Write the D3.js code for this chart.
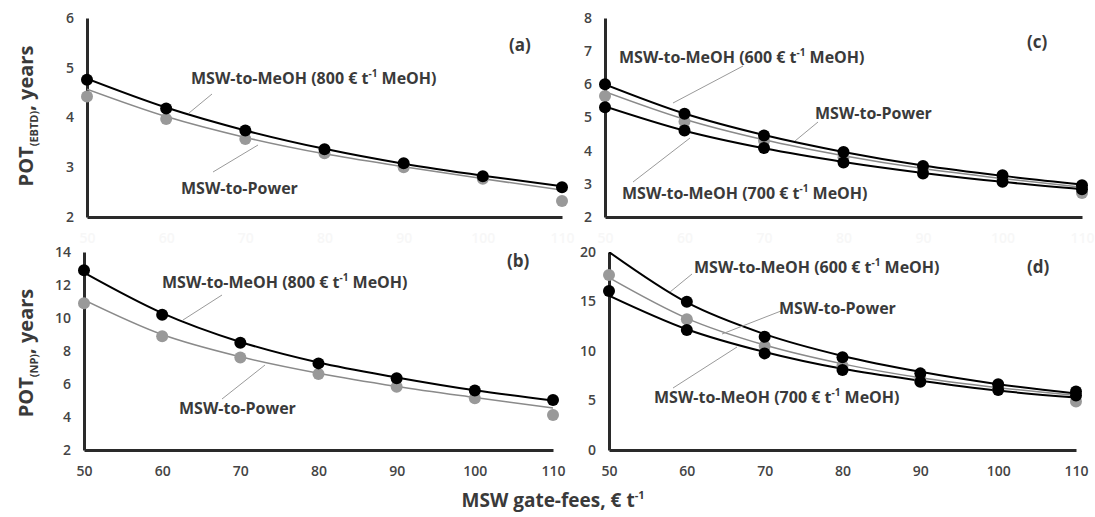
<!DOCTYPE html>
<html>
<head>
<meta charset="utf-8">
<script src="https://cdn.jsdelivr.net/npm/d3@7"></script>
<style>
  body { margin: 0; background: #fff; }
  svg { font-family: "Open Sans", "Liberation Sans", sans-serif; }
</style>
</head>
<body>
<svg width="1095" height="517"></svg>
<script>
var gateFees = [50, 60, 70, 80, 90, 100, 110];

// panel (a) POT(EBTD)
var aMeOH800 = [4.76, 4.18, 3.74, 3.36, 3.08, 2.82, 2.6];
var aMeOH800Trend = [4.78, 4.2, 3.74, 3.37, 3.07, 2.83, 2.62];
var aPower = [4.42, 3.97, 3.57, 3.28, 3.0, 2.77, 2.32];
var aPowerTrend = [4.57, 4.02, 3.6, 3.27, 3.01, 2.77, 2.54];

// panel (b) POT(NP)
var bMeOH800 = [12.9, 10.2, 8.5, 7.25, 6.35, 5.6, 5.03];
var bMeOH800Trend = [12.75, 10.3, 8.55, 7.3, 6.4, 5.62, 5.0];
var bPower = [10.9, 8.9, 7.6, 6.6, 5.84, 5.13, 4.12];
var bPowerTrend = [11.1, 9.0, 7.65, 6.65, 5.85, 5.18, 4.55];

// panel (c) POT(EBTD)
var cMeOH600 = [6.0, 5.11, 4.46, 3.96, 3.54, 3.26, 2.96];
var cMeOH600Trend = [6.0, 5.12, 4.47, 3.96, 3.55, 3.24, 2.98];
var cPower = [5.65, 4.88, 4.3, 3.8, 3.42, 3.15, 2.72];
var cPowerTrend = [5.78, 4.95, 4.33, 3.85, 3.46, 3.16, 2.9];
var cMeOH700 = [5.31, 4.61, 4.08, 3.64, 3.31, 3.06, 2.84];
var cMeOH700Trend = [5.33, 4.6, 4.07, 3.66, 3.33, 3.06, 2.84];

// panel (d) POT(NP)
var dMeOH600 = [null, 14.98, 11.44, 9.36, 7.74, 6.63, 5.9];
var dMeOH600Trend = [20, 14.9, 11.7, 9.5, 7.9, 6.65, 5.7];
var dPower = [17.68, 13.2, 10.5, 8.5, 7.2, 6.2, 4.9];
var dPowerTrend = [17.4, 13.3, 10.6, 8.7, 7.3, 6.3, 5.5];
var dMeOH700 = [16.06, 12.12, 9.76, 8.08, 6.9, 6.06, 5.5];
var dMeOH700Trend = [15.6, 12.2, 9.9, 8.2, 7.0, 6.0, 5.3];

var yTicksEBTD_a = [2, 3, 4, 5, 6];
var yTicksNP_b = [2, 4, 6, 8, 10, 12, 14];
var yTicksEBTD_c = [2, 3, 4, 5, 6, 7, 8];
var yTicksNP_d = [0, 5, 10, 15, 20];

var lblMeOH800 = "MSW-to-MeOH (800 € t";
var lblMeOH600 = "MSW-to-MeOH (600 € t";
var lblMeOH700 = "MSW-to-MeOH (700 € t";
var lblPower = "MSW-to-Power";

var svg = d3.select("svg");
var textCol = "#3a3a3a";

function methLabel(g, txt, x, y){
    var t = g.append("text").attr("x", x).attr("y", y)
        .attr("font-size", 16).attr("font-weight", "bold").style("fill", textCol);
    if (txt == lblPower){ t.text(txt); return; }
    t.append("tspan").text(txt);
    t.append("tspan").text("-1").attr("font-size", 10).attr("dy", -7);
    t.append("tspan").text(" MeOH)").attr("dy", 7);
}

function leader(g, x1, y1, x2, y2){
    g.append("line").attr("x1", x1).attr("y1", y1).attr("x2", x2).attr("y2", y2)
        .attr("stroke", "#9a9a9a").attr("stroke-width", 1);
}

function drawPanel(p){
    var x = d3.scaleLinear().domain([50, 110]).range([p.x0, p.x1]);
    var y = d3.scaleLinear().domain([p.yTicks[0], p.yTicks[p.yTicks.length - 1]]).range([p.yb, p.yt]);
    var g = svg.append("g");

    var clipId = "clip" + p.name;
    svg.append("clipPath").attr("id", clipId).append("rect")
        .attr("x", p.x0).attr("y", p.yt).attr("width", p.x1 - p.x0 + 10).attr("height", p.yb - p.yt);

    // y axis
    var ya = g.append("g").attr("transform", "translate(" + p.x0 + ",0)")
        .call(d3.axisLeft(y).tickValues(p.yTicks).tickFormat(d3.format("d"))
            .tickSize(0).tickSizeOuter(0).tickPadding(13));
    ya.select(".domain").attr("stroke", "#2a2a2a").attr("stroke-width", 3);
    ya.selectAll("text").attr("font-size", 14).attr("font-weight", 600).style("fill", "#444")
        .attr("font-family", "Open Sans");

    // x axis
    var xa = g.append("g").attr("transform", "translate(0," + p.yb + ")")
        .call(d3.axisBottom(x).tickValues(gateFees).tickSize(0).tickSizeOuter(0).tickPadding(16));
    xa.select(".domain").attr("stroke", "#2a2a2a").attr("stroke-width", 3);
    xa.selectAll(".tick text").attr("font-size", 14).attr("font-weight", 600)
        .style("fill", p.xLabelCol).attr("font-family", "Open Sans");

    var line = d3.line()
        .defined(function(d){ return d != null; })
        .x(function(d, i){ return x(gateFees[i]); })
        .y(function(d){ return y(d); })
        .curve(d3.curveMonotoneX);

    var lg = g.append("g").attr("clip-path", "url(#" + clipId + ")");
    p.series.forEach(function(s){
        lg.append("path").datum(s.trend).attr("d", line).attr("fill", "none")
            .attr("stroke", s.color).attr("stroke-width", s.width);
    });

    // markers, grey first so the black ones sit on top
    var order = p.series.slice().sort(function(a, b){ return a.color == "#000" ? 1 : -1; });
    order.forEach(function(s){
        g.append("g").selectAll("circle")
            .data(s.values.map(function(v, i){ return {v: v, f: gateFees[i]}; })
                .filter(function(d){ return d.v != null; }))
            .enter().append("circle")
            .attr("cx", function(d){ return x(d.f); })
            .attr("cy", function(d){ return y(d.v); })
            .attr("r", 6)
            .attr("fill", s.dot);
    });

    p.labels.forEach(function(l){
        leader(g, l.lx1, l.ly1, l.lx2, l.ly2);
        methLabel(g, l.text, l.x, l.y);
    });

    g.append("text").attr("x", p.tagX).attr("y", p.tagY).text(p.tag)
        .attr("font-size", 17).attr("font-weight", "bold").style("fill", textCol);
}

drawPanel({
    name: "a", x0: 87, x1: 562, yb: 217, yt: 18, yTicks: yTicksEBTD_a, xLabelCol: "#f7f7f7",
    series: [
        {trend: aPowerTrend, values: aPower, color: "#8a8a8a", width: 1.5, dot: "#999"},
        {trend: aMeOH800Trend, values: aMeOH800, color: "#000", width: 2, dot: "#000"}
    ],
    labels: [
        {text: lblMeOH800, x: 191, y: 84, lx1: 212, ly1: 94, lx2: 189, ly2: 113},
        {text: lblPower, x: 181, y: 194, lx1: 213, ly1: 172, lx2: 258, ly2: 145}
    ],
    tag: "(a)", tagX: 509, tagY: 51
});

drawPanel({
    name: "b", x0: 84, x1: 553, yb: 450, yt: 252, yTicks: yTicksNP_b, xLabelCol: "#444",
    series: [
        {trend: bPowerTrend, values: bPower, color: "#8a8a8a", width: 1.5, dot: "#999"},
        {trend: bMeOH800Trend, values: bMeOH800, color: "#000", width: 2, dot: "#000"}
    ],
    labels: [
        {text: lblMeOH800, x: 162, y: 288, lx1: 222, ly1: 295, lx2: 183, ly2: 320},
        {text: lblPower, x: 179, y: 414, lx1: 222, ly1: 399, lx2: 265, ly2: 365}
    ],
    tag: "(b)", tagX: 507, tagY: 267
});

drawPanel({
    name: "c", x0: 605, x1: 1082, yb: 217, yt: 18, yTicks: yTicksEBTD_c, xLabelCol: "#f7f7f7",
    series: [
        {trend: cPowerTrend, values: cPower, color: "#8a8a8a", width: 1.5, dot: "#999"},
        {trend: cMeOH600Trend, values: cMeOH600, color: "#000", width: 2, dot: "#000"},
        {trend: cMeOH700Trend, values: cMeOH700, color: "#000", width: 2, dot: "#000"}
    ],
    labels: [
        {text: lblMeOH600, x: 619, y: 63, lx1: 743, ly1: 66, lx2: 673, ly2: 103},
        {text: lblPower, x: 815, y: 119, lx1: 818, ly1: 122, lx2: 795, ly2: 141},
        {text: lblMeOH700, x: 622, y: 199, lx1: 633, ly1: 182, lx2: 690, ly2: 138}
    ],
    tag: "(c)", tagX: 1027, tagY: 48
});

drawPanel({
    name: "d", x0: 609, x1: 1076, yb: 450, yt: 252, yTicks: yTicksNP_d, xLabelCol: "#444",
    series: [
        {trend: dPowerTrend, values: dPower, color: "#8a8a8a", width: 1.5, dot: "#999"},
        {trend: dMeOH600Trend, values: dMeOH600, color: "#000", width: 2, dot: "#000"},
        {trend: dMeOH700Trend, values: dMeOH700, color: "#000", width: 2, dot: "#000"}
    ],
    labels: [
        {text: lblMeOH600, x: 694, y: 273, lx1: 692, ly1: 274, lx2: 670, ly2: 292},
        {text: lblPower, x: 779, y: 314, lx1: 781, ly1: 311, lx2: 722, ly2: 334},
        {text: lblMeOH700, x: 654, y: 403, lx1: 673, ly1: 388, lx2: 737, ly2: 347}
    ],
    tag: "(d)", tagX: 1027, tagY: 273
});

// axis titles
function yTitle(cx, cy, sub){
    var t = svg.append("text")
        .attr("transform", "translate(" + cx + "," + cy + ") rotate(-90)")
        .attr("text-anchor", "middle").attr("font-weight", "bold").style("fill", textCol)
        .attr("font-size", 20);
    t.append("tspan").text("POT");
    t.append("tspan").text(sub).attr("font-size", 11).attr("dy", 5);
    t.append("tspan").text(", years").attr("dy", -5);
}
yTitle(33, 116, "(EBTD)");
yTitle(33, 353, "(NP)");

var xt = svg.append("text").attr("x", 553).attr("y", 507).attr("text-anchor", "middle")
    .attr("font-size", 19).attr("font-weight", "bold").style("fill", textCol);
xt.append("tspan").text("MSW gate-fees, € t");
xt.append("tspan").text("-1").attr("font-size", 11).attr("dy", -8);
</script>
</body>
</html>
